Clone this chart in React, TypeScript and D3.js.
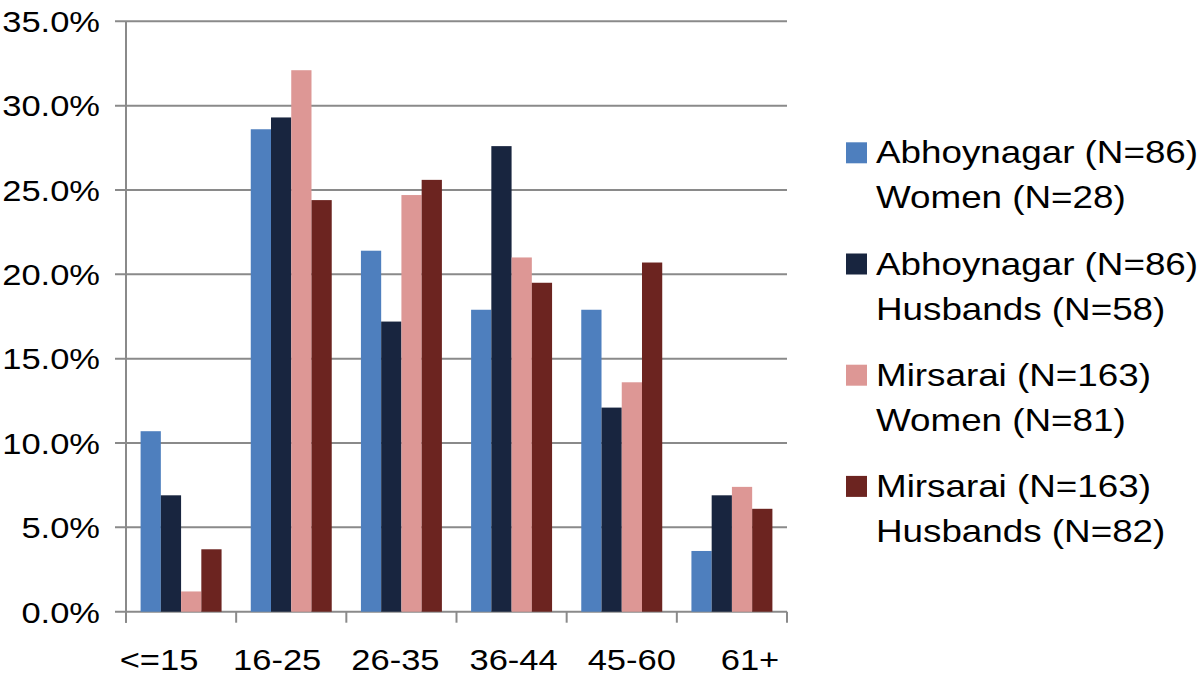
import { scaleBand, scaleLinear, scalePoint } from "d3";

const categories = ["<=15", "16-25", "26-35", "36-44", "45-60", "61+"];
const seriesNames = [
  ["Abhoynagar (N=86)", "Women (N=28)"],
  ["Abhoynagar (N=86)", "Husbands (N=58)"],
  ["Mirsarai (N=163)", "Women (N=81)"],
  ["Mirsarai (N=163)", "Husbands (N=82)"],
];
const abhoyWomen = [10.7, 28.6, 21.4, 17.9, 17.9, 3.6];
const abhoyHusbands = [6.9, 29.3, 17.2, 27.6, 12.1, 6.9];
const mirsaraiWomen = [1.2, 32.1, 24.7, 21.0, 13.6, 7.4];
const mirsaraiHusbands = [3.7, 24.4, 25.6, 19.5, 20.7, 6.1];
const yTicks = [0, 5, 10, 15, 20, 25, 30, 35];
const colors = ["#4E7FBE", "#18253F", "#DD9795", "#6C2420"];

const series = [abhoyWomen, abhoyHusbands, mirsaraiWomen, mirsaraiHusbands];

const FONT = "'Liberation Sans', Arial, Helvetica, sans-serif";
const STRETCH = 1.15;
const GRID = "#8a8a8a";

export default function App() {
  const width = 1200;
  const height = 680;
  const left = 126;
  const right = 787;
  const top = 21.3;
  const bottom = 611.7;

  const y = scaleLinear().domain([0, 35]).range([bottom, top]);
  const x0 = scaleBand<string>()
    .domain(categories)
    .range([left, right])
    .paddingInner(0.265)
    .paddingOuter(0.1325);
  const x1 = scaleBand<number>()
    .domain(series.map((_, i) => i))
    .range([0, x0.bandwidth()]);
  const labelX = scalePoint<string>().domain(categories).range([159, 750]);
  const step = x0.step();
  const edges = categories.map((_, i) => left + i * step).concat([right]);

  return (
    <svg
      width={width}
      height={height}
      style={{ position: "absolute", left: 0, top: 0, background: "#fff" }}
      fontFamily={FONT}
    >
      {yTicks.map((t) => (
        <g key={t}>
          <line x1={left - 11} x2={right} y1={y(t)} y2={y(t)} stroke={GRID} strokeWidth={2} />
          <text
            transform={`translate(100,${y(t)}) scale(${STRETCH},1)`}
            dy="0.36em"
            textAnchor="end"
            fontSize={30}
            fill="#000"
          >
            {t.toFixed(1)}%
          </text>
        </g>
      ))}
      <line x1={left} x2={left} y1={top} y2={bottom + 11} stroke={GRID} strokeWidth={2} />
      {edges.map((e, i) => (
        <line key={i} x1={e} x2={e} y1={bottom} y2={bottom + 11} stroke={GRID} strokeWidth={2} />
      ))}
      {categories.map((c, ci) => (
        <g key={c} transform={`translate(${x0(c)},0)`}>
          {series.map((s, si) => (
            <rect
              key={si}
              x={x1(si)}
              y={y(s[ci])}
              width={x1.bandwidth()}
              height={bottom - y(s[ci])}
              fill={colors[si]}
            />
          ))}
        </g>
      ))}
      {categories.map((c) => (
        <text
          key={c}
          transform={`translate(${labelX(c)},670) scale(${STRETCH},1)`}
          textAnchor="middle"
          fontSize={30}
          fill="#000"
        >
          {c}
        </text>
      ))}
      {seriesNames.map((lines, i) => {
        const base = 163.3 + i * 111.2;
        return (
          <g key={i}>
            <rect x={846} y={base - 21} width={21} height={21} fill={colors[i]} />
            {lines.map((l, li) => (
              <text
                key={li}
                transform={`translate(876,${base + li * 45}) scale(${STRETCH},1)`}
                fontSize={32}
                fill="#000"
              >
                {l}
              </text>
            ))}
          </g>
        );
      })}
    </svg>
  );
}
